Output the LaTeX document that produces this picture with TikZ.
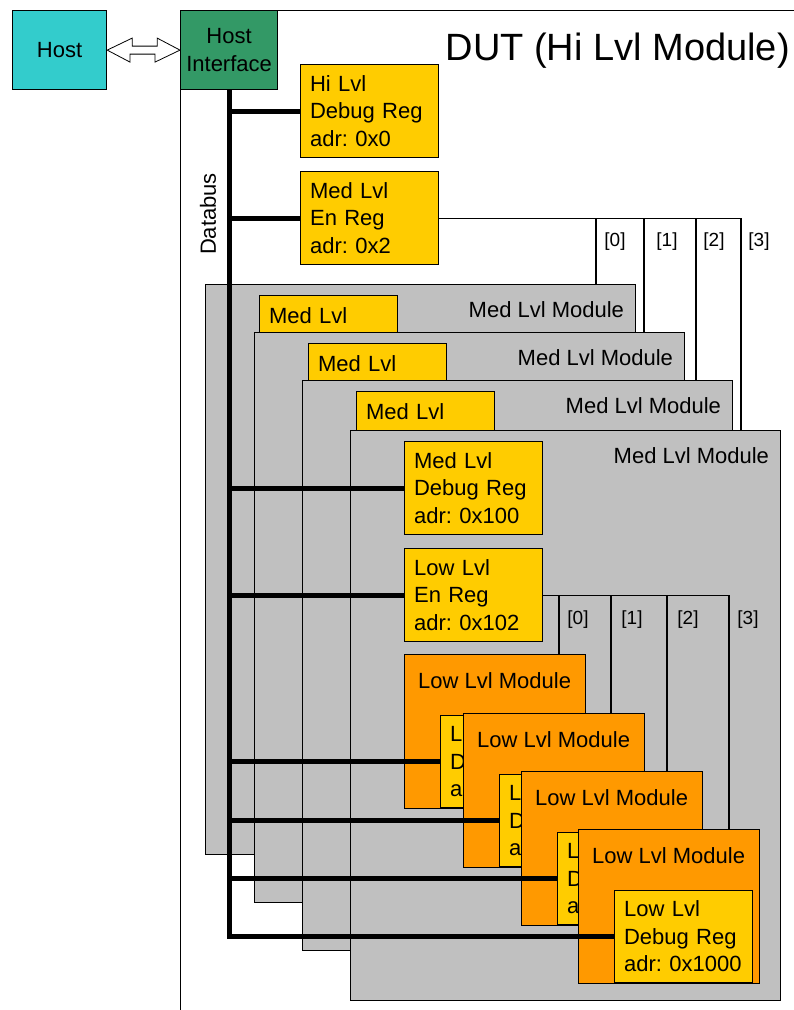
\documentclass[tikz,border=0pt]{standalone}
\usepackage{fontspec}
\setmainfont{Liberation Sans}
\usetikzlibrary{calc}
\definecolor{hostcyan}{HTML}{33CCCC}
\definecolor{hifgreen}{HTML}{339966}
\definecolor{regyellow}{HTML}{FFCC00}
\definecolor{modorange}{HTML}{FF9900}
\definecolor{modgray}{HTML}{C0C0C0}
\frenchspacing
\begin{document}
\begin{tikzpicture}[x=1pt,y=-1pt,
  every node/.style={font=\fontsize{22}{27.5}\selectfont, inner sep=0pt},
  box/.style={draw=black, line width=1.2pt},
  reg/.style={box, fill=regyellow, anchor=north west, minimum width=138pt,
    minimum height=93pt, text width=119pt, align=left, inner xsep=9.5pt},
  gmod/.style={box, fill=modgray, anchor=north west, minimum width=430pt, minimum height=570pt},
  lmod/.style={box, fill=modorange, anchor=north west, minimum width=181pt, minimum height=154pt},
  wire/.style={line width=1.2pt},
  bus/.style={line width=5pt, line join=miter},
  lbl/.style={font=\fontsize{19}{20}\selectfont},
  ttl/.style={anchor=base east},
  lttl/.style={anchor=base west}
]
\useasboundingbox (0,0) rectangle (794,1010);
\clip (0,0) rectangle (794,1010);

% outer DUT
\node[box, fill=white, anchor=north west, minimum width=720pt, minimum height=1090pt] (dut) at (180,10) {};
\node[anchor=base east, font=\fontsize{38}{40}\selectfont] (duttitle) at (790,60) {DUT (Hi Lvl Module)};

% host side
\node[box, fill=hostcyan, anchor=north west, minimum width=94pt, minimum height=79pt] (host) at (12,10) {Host};
\node[box, fill=hifgreen, anchor=north west, minimum width=97pt, minimum height=79pt, align=center] (hif) at (180,10) {Host\\Interface};
\draw[line width=0.8pt, fill=white] (host.east) -- ++(25,-12) -- ++(0,8) -- ++(25,0) -- ++(0,-8)
  -- (hif.west) -- ++(-25,12) -- ++(0,-8) -- ++(-25,0) -- ++(0,8) -- cycle;

\node[rotate=90] (databus) at (208,214) {Databus};

% high level registers
\node[reg] (hreg) at (300,64) {Hi Lvl\\Debug Reg\\adr: 0x0};
\node[reg] (menreg) at (300,171) {Med Lvl\\En Reg\\adr: 0x2};

% med level enables
\coordinate (mt0) at (596,284);
\coordinate (mt1) at (644,332);
\coordinate (mt2) at (696,380);
\coordinate (mt3) at (741,430);
\draw[wire] (menreg.east) -- (menreg.east -| mt3) -- (mt3);
\foreach \i in {0,1,2} {\draw[wire] (menreg.east -| mt\i) -- (mt\i);}
\node[lbl] (me0) at (615,242) {[0]};
\node[lbl] (me1) at (667,242) {[1]};
\node[lbl] (me2) at (714,242) {[2]};
\node[lbl] (me3) at (759,242) {[3]};

% medium level modules
\node[gmod] (mod1) at (205,284) {};
\node[ttl] (mod1t) at ($(mod1.north east)+(-12,33)$) {Med Lvl Module};
\node[reg, minimum height=40pt] (mreg1) at ($(mod1.north west)+(54,11)$) {Med Lvl};

\node[gmod] (mod2) at (254,332) {};
\node[ttl] (mod2t) at ($(mod2.north east)+(-12,33)$) {Med Lvl Module};
\node[reg, minimum height=40pt] (mreg2) at ($(mod2.north west)+(54,11)$) {Med Lvl};

\node[gmod] (mod3) at (302,380) {};
\node[ttl] (mod3t) at ($(mod3.north east)+(-12,33)$) {Med Lvl Module};
\node[reg, minimum height=40pt] (mreg3) at ($(mod3.north west)+(54,11)$) {Med Lvl};

\node[gmod] (mod4) at (350,430) {};
\node[ttl] (mod4t) at ($(mod4.north east)+(-12,33)$) {Med Lvl Module};
\node[reg] (mdreg) at ($(mod4.north west)+(54,11)$) {Med Lvl\\Debug Reg\\adr: 0x100};
\node[reg] (lenreg) at (404,548) {Low Lvl\\En Reg\\adr: 0x102};

% low level enables
\coordinate (lt0) at (559,654);
\coordinate (lt1) at (611,713);
\coordinate (lt2) at (667,771);
\coordinate (lt3) at (729,829);
\draw[wire] (lenreg.east) -- (lenreg.east -| lt3) -- (lt3);
\foreach \i in {0,1,2} {\draw[wire] (lenreg.east -| lt\i) -- (lt\i);}
\node[lbl] (le0) at (578,620) {[0]};
\node[lbl] (le1) at (632,620) {[1]};
\node[lbl] (le2) at (688,620) {[2]};
\node[lbl] (le3) at (748,620) {[3]};

% low level modules
\node[lmod] (lmod1) at (404,654) {};
\node[lttl] (lmod1t) at ($(lmod1.north west)+(14,34)$) {Low Lvl Module};
\node[reg, minimum height=92pt] (ldreg1) at ($(lmod1.north west)+(36,61)$) {L\\D\\a};

\node[lmod] (lmod2) at (463,713) {};
\node[lttl] (lmod2t) at ($(lmod2.north west)+(14,34)$) {Low Lvl Module};
\node[reg, minimum height=92pt] (ldreg2) at ($(lmod2.north west)+(36,61)$) {L\\D\\a};

\node[lmod] (lmod3) at (521,771) {};
\node[lttl] (lmod3t) at ($(lmod3.north west)+(14,34)$) {Low Lvl Module};
\node[reg, minimum height=92pt] (ldreg3) at ($(lmod3.north west)+(36,61)$) {L\\D\\a};

\node[lmod] (lmod4) at (578,829) {};
\node[lttl] (lmod4t) at ($(lmod4.north west)+(14,34)$) {Low Lvl Module};
\node[reg, minimum height=92pt] (ldreg4) at ($(lmod4.north west)+(36,61)$) {Low Lvl\\Debug Reg\\adr: 0x1000};

% databus
\draw[bus] (hif.south) -- (hif.south |- ldreg4.west) -- (ldreg4.west);
\foreach \n in {hreg, menreg, mdreg, lenreg, ldreg1, ldreg2, ldreg3} {
  \draw[bus] (hif.south |- \n.west) -- (\n.west);
}
\end{tikzpicture}
\end{document}
